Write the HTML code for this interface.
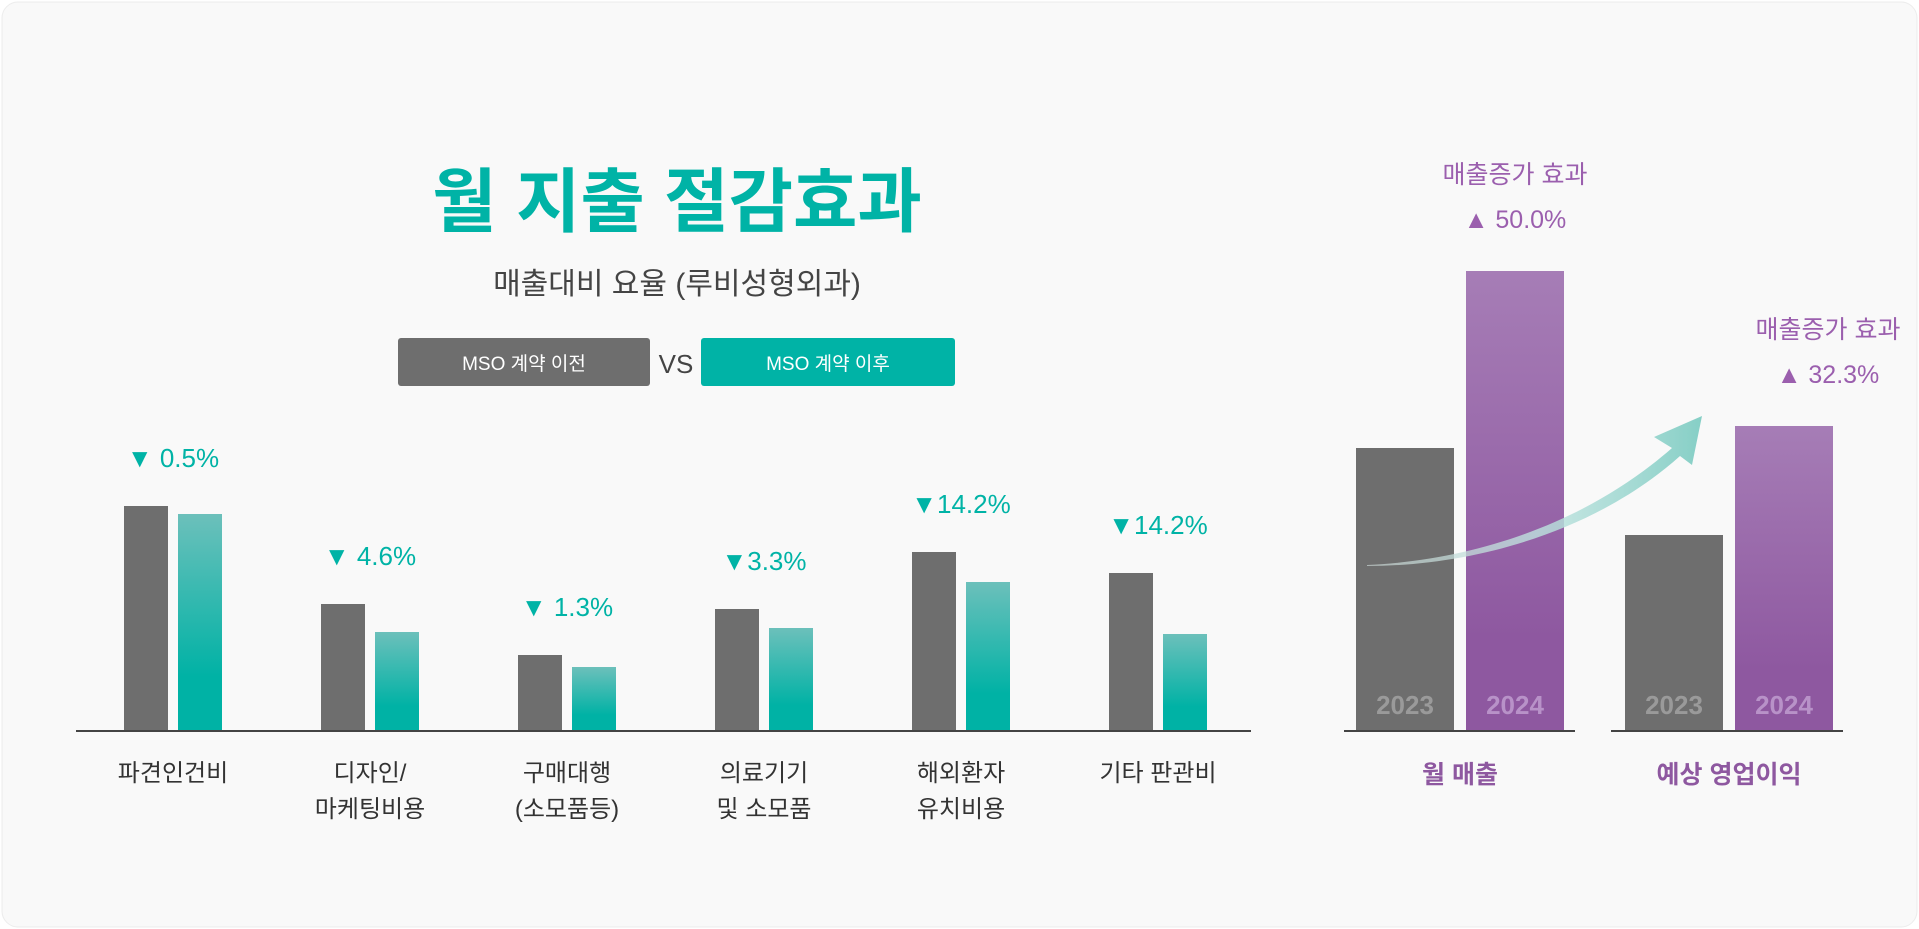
<!DOCTYPE html>
<html><head><meta charset="utf-8"><style>
html,body{margin:0;padding:0;background:#fff;}
svg{display:block;font-family:"Liberation Sans","Noto Sans CJK KR",sans-serif;}
</style></head><body>
<svg id="chart" width="1919" height="929" viewBox="0 0 1919 929">
<defs>
<linearGradient id="tealG" x1="0" y1="0" x2="0" y2="1"><stop offset="0" stop-color="#6cc0bb"/><stop offset="0.75" stop-color="#00b2a5"/></linearGradient>
<linearGradient id="purG" x1="0" y1="0" x2="0" y2="1"><stop offset="0" stop-color="#a67db6"/><stop offset="0.8" stop-color="#8e58a0"/></linearGradient>
<linearGradient id="arrG" x1="0" y1="0" x2="1" y2="0"><stop offset="0" stop-color="#c8d4d2" stop-opacity="0.7"/><stop offset="0.5" stop-color="#bfe3df" stop-opacity="0.8"/><stop offset="1" stop-color="#86cfc6"/></linearGradient>
</defs>
<rect x="2" y="2" width="1915" height="925" rx="16" fill="#f9f9f9" stroke="#ececec"/>
<text x="677" y="226" text-anchor="middle" font-size="70" font-weight="bold" fill="#00b3a6">월 지출 절감효과</text>
<text x="677" y="294" text-anchor="middle" font-size="30" fill="#444">매출대비 요율 (루비성형외과)</text>
<g>
<rect x="398" y="338" width="252" height="48" rx="3" fill="#6e6e6e"/>
<text x="524" y="370" text-anchor="middle" font-size="19" fill="#fff">MSO 계약 이전</text>
<text x="676" y="373" text-anchor="middle" font-size="26" fill="#444">VS</text>
<rect x="701" y="338" width="254" height="48" rx="3" fill="#00b3a6"/>
<text x="828" y="370" text-anchor="middle" font-size="19" fill="#fff">MSO 계약 이후</text>
</g>
<g id="left"></g>
<g id="right"></g>
<line x1="76" y1="731" x2="1251" y2="731" stroke="#444" stroke-width="2"/>
<line x1="1344" y1="731" x2="1575" y2="731" stroke="#444" stroke-width="2"/>
<line x1="1611" y1="731" x2="1843" y2="731" stroke="#444" stroke-width="2"/>
</svg>
<script>
const categories = [["파견인건비"],["디자인/","마케팅비용"],["구매대행","(소모품등)"],["의료기기","및 소모품"],["해외환자","유치비용"],["기타 판관비"]];
const beforeValues = [225,127,76,122,179,158];
const afterValues = [217,99,64,103,149,97];
const changeLabels = ["▼ 0.5%","▼ 4.6%","▼ 1.3%","▼3.3%","▼14.2%","▼14.2%"];
const rightCategories = ["월 매출","예상 영업이익"];
const values2023 = [283,196];
const values2024 = [460,305];
const growthLabels = ["▲ 50.0%","▲ 32.3%"];

const NS="http://www.w3.org/2000/svg";
const base=731;
function yS(v){return base - v;}
function mk(tag,attrs,parent,txt){const e=document.createElementNS(NS,tag);for(const k in attrs)e.setAttribute(k,attrs[k]);if(txt!==undefined)e.textContent=txt;parent.appendChild(e);return e;}
const L=document.getElementById('left');
categories.forEach((c,i)=>{
  const cx=173+i*197;
  const b=mk('rect',{x:cx-49,y:yS(beforeValues[i]),width:44,height:beforeValues[i],fill:'#6e6e6e'},L);
  
  
  const a=mk('rect',{x:cx+5,y:yS(afterValues[i]),width:44,height:afterValues[i],fill:'url(#tealG)'},L);
  
  
  const t=mk('text',{x:cx,y:yS(beforeValues[i])-39,'text-anchor':'middle','font-size':26,fill:'#00b3a6'},L,changeLabels[i]);
  
  
  c.forEach((line,j)=>{
    const l=mk('text',{x:cx,y:781+j*36,'text-anchor':'middle','font-size':24,fill:'#333'},L,line);
    
    
  });
});
const R=document.getElementById('right');
rightCategories.forEach((c,i)=>{
  const gx=1356+i*269;
  const g=mk('rect',{x:gx,y:yS(values2023[i]),width:98,height:values2023[i],fill:'#6e6e6e'},R);
  
  
  const p=mk('rect',{x:gx+110,y:yS(values2024[i]),width:98,height:values2024[i],fill:'url(#purG)'},R);
  
  
  const y1=mk('text',{x:gx+49,y:714,'text-anchor':'middle','font-size':26,'font-weight':'bold',fill:'#9a9a9a'},R,'2023');
  
  
  const y2=mk('text',{x:gx+159,y:714,'text-anchor':'middle','font-size':26,'font-weight':'bold',fill:'#b892c8'},R,'2024');
  
  
  const cl=mk('text',{x:gx+104,y:783,'text-anchor':'middle','font-size':25,'font-weight':'bold',fill:'#8e58a0'},R,c);
  
  
  const tx=gx+159+(i?44:0);
  const top=yS(values2024[i]);
  const a1=mk('text',{x:tx,y:top-88,'text-anchor':'middle','font-size':25,fill:'#9b5fae'},R,'매출증가 효과');
  
  
  const a2=mk('text',{x:tx,y:top-43,'text-anchor':'middle','font-size':25,fill:'#9b5fae'},R,growthLabels[i]);
  
  
});
const arr=mk('path',{d:'M1367 565 C1480 560 1590 520 1672 448 L1654 437 L1702 416 L1692 465 L1680 456 C1600 528 1480 566 1367 566 Z',fill:'url(#arrG)'},R);


</script>
</body></html>
